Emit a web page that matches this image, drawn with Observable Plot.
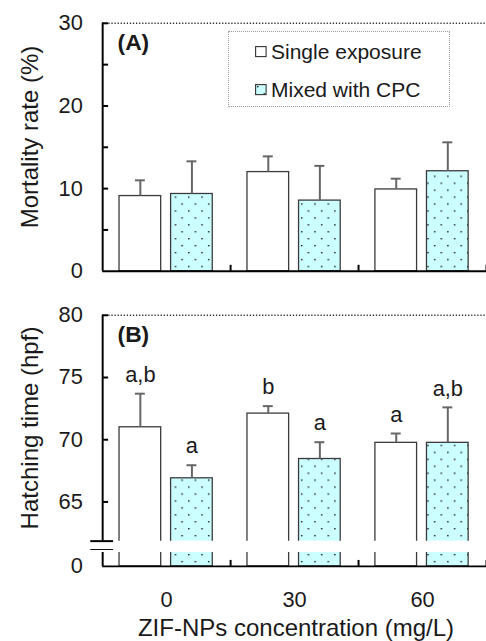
<!DOCTYPE html>
<html><head><meta charset="utf-8">
<script src="https://cdn.jsdelivr.net/npm/d3@7"></script>
<script src="https://cdn.jsdelivr.net/npm/@observablehq/plot@0.6"></script>
<style>
html,body{margin:0;padding:0;background:#fff;overflow:hidden;}
#wrap{position:relative;width:486px;height:641px;overflow:hidden;font-family:"Liberation Sans",Arial,sans-serif;color:#1a1a1a;}
.panel{position:absolute;left:0;}
.ytitle{position:absolute;font-size:24px;line-height:24px;white-space:nowrap;transform:translate(-50%,-50%) rotate(-90deg);}
.xtitle{position:absolute;font-size:24px;line-height:24px;white-space:nowrap;transform:translate(-50%,-50%);}
#legend{position:absolute;left:228px;top:31px;width:220px;height:74px;border:1.5px dotted #9a9a9a;}
.lg{position:absolute;left:26px;font-size:21px;line-height:21px;white-space:nowrap;}
.lg svg{position:absolute;left:0;}
.lg span{position:absolute;left:16px;top:0;}
</style></head><body>
<svg width="0" height="0" style="position:absolute">
 <defs>
  <pattern id="dots" patternUnits="userSpaceOnUse" width="13.4" height="14">
    <rect width="13.4" height="14" fill="#ccffff"/>
    <rect x="2" y="2" width="1.4" height="1.4" fill="#111"/>
    <rect x="8.7" y="9" width="1.4" height="1.4" fill="#111"/>
  </pattern>
 </defs>
</svg>
<div id="wrap"></div>
<script>
// ---- data ----
const concentrations = ["0", "30", "60"];
const seriesNames = ["Single exposure", "Mixed with CPC"];
const mortalitySingle = [9.1, 12.0, 9.9];
const mortalitySingleErr = [1.9, 1.9, 1.3];
const mortalityMixed = [9.35, 8.55, 12.1];
const mortalityMixedErr = [3.95, 4.2, 3.5];
const hatchingSingle = [71.0, 72.1, 69.75];
const hatchingSingleErr = [2.7, 0.6, 0.75];
const hatchingMixed = [66.9, 68.45, 69.75];
const hatchingMixedErr = [1.05, 1.35, 2.85];
const lettersSingle = ["a,b", "b", "a"];
const lettersMixed = ["a", "a", "a,b"];
const mortalityTicks = [0, 10, 20, 30];
const mortalityMinorTicks = [5, 10, 15, 20, 25, 30];
const hatchingTicks = [65, 70, 75, 80];
const hatchingLowTicks = [0];
const mortalityDomain = [0, 30];
const hatchingDomain = [61.85, 80];
const hatchingLowDomain = [0, 1];

// ---- layout / style ----
const FONT = '"Liberation Sans", Arial, sans-serif';
const W = 490, ML = 103;
const band = (W - ML) / concentrations.length;
const barW = 42, capW = 10, breakGap = 9;
const styles = {
  single: {left: 17, fill: "white"},
  mixed: {left: 69, fill: "url(#dots)"}
};
const rows = (vals, errs, letters) =>
  concentrations.map((c, i) => ({conc: c, value: vals[i], err: errs[i], letter: letters ? letters[i] : ""}));

function seriesMarks(data, st, {errors = true, letters = false, clip = false} = {}) {
  const c = st.left + barW / 2;
  const m = [
    Plot.barY(data, {x: "conc", y: "value", fill: st.fill, stroke: "#3a3a3a", strokeWidth: 1.3,
      insetLeft: st.left, insetRight: band - st.left - barW, clip})
  ];
  if (errors) {
    m.push(Plot.ruleX(data, {x: "conc", y1: "value", y2: d => d.value + d.err, dx: c - band / 2, stroke: "#666", strokeWidth: 2}));
    m.push(Plot.tickY(data, {x: "conc", y: d => d.value + d.err, insetLeft: c - capW / 2, insetRight: band - c - capW / 2, stroke: "#666", strokeWidth: 2}));
  }
  if (letters) {
    m.push(Plot.text(data, {x: "conc", y: d => d.value + d.err, text: "letter", dx: c - band / 2, dy: -19, fontSize: 22, fill: "#1a1a1a"}));
  }
  return m;
}
const common = {
  width: W, marginLeft: ML, marginRight: 0,
  style: {fontFamily: FONT, fontSize: "22px", color: "#1a1a1a", background: "transparent"},
  x: {type: "band", domain: concentrations, padding: 0, axis: null}
};
const innerTicks = (ticks) => Plot.tickY(ticks, {y: d => d, insetRight: W - ML - 6, stroke: "#000", strokeWidth: 2});
const breakMark = (v, dy = 0) => Plot.tickY([v], {y: d => d, dy, insetLeft: -12, insetRight: W - ML - 11, stroke: "#000", strokeWidth: 2});
const groupTicks = (frameH) => Plot.ruleX(concentrations, {x: d => d, dx: band / 2, insetTop: frameH - 6, stroke: "#000", strokeWidth: 2});
const yLine = () => Plot.ruleX([concentrations[0]], {x: d => d, dx: -band / 2, stroke: "#000", strokeWidth: 2});
const yAxis = (ticks) => Plot.axisY({ticks, tickSize: 0, tickPadding: 20, label: null, fontSize: 22, fill: "#1a1a1a", tickFormat: d => String(d)});
const panelLabel = (t) => Plot.text([t], {frameAnchor: "top-left", dx: 15, dy: 20, lineAnchor: "middle", fontWeight: "bold", fontSize: 23, textAnchor: "start", fill: "#1a1a1a"});

// ---- Panel A ----
const mS = rows(mortalitySingle, mortalitySingleErr), mM = rows(mortalityMixed, mortalityMixedErr);
const plotA = Plot.plot({
  ...common, height: 290, marginTop: 23, marginBottom: 17,
  y: {domain: mortalityDomain, axis: null},
  marks: [
    Plot.ruleY([mortalityDomain[1]], {stroke: "#333", strokeDasharray: "1.3,1.8", strokeWidth: 1.4}),
    ...seriesMarks(mS, styles.single),
    ...seriesMarks(mM, styles.mixed),
    yAxis(mortalityTicks),
    yLine(),
    innerTicks(mortalityMinorTicks),
    Plot.ruleY([0], {stroke: "#000", strokeWidth: 2}),
    groupTicks(290 - 23 - 17),
    panelLabel("(A)")
  ]
});

// ---- Panel B (upper part) ----
const hS = rows(hatchingSingle, hatchingSingleErr, lettersSingle), hM = rows(hatchingMixed, hatchingMixedErr, lettersMixed);
const plotB = Plot.plot({
  ...common, height: 262, marginTop: 25, marginBottom: 9.3,
  y: {domain: hatchingDomain, axis: null},
  marks: [
    Plot.ruleY([hatchingDomain[1]], {stroke: "#333", strokeDasharray: "1.3,1.8", strokeWidth: 1.4}),
    ...seriesMarks(hS, styles.single, {letters: true, clip: true}),
    ...seriesMarks(hM, styles.mixed, {letters: true, clip: true}),
    yAxis(hatchingTicks),
    yLine(),
    innerTicks(hatchingTicks),
    breakMark(hatchingDomain[0]),
    breakMark(hatchingDomain[0], breakGap),
    panelLabel("(B)")
  ]
});

// ---- Panel B (lower part, below axis break; bars cut by the SVG edge) ----
const plotB2 = Plot.plot({
  ...common, height: 89, marginTop: 0, marginBottom: 75,
  y: {domain: hatchingLowDomain, axis: null},
  marks: [
    ...seriesMarks(hS, styles.single, {errors: false}),
    ...seriesMarks(hM, styles.mixed, {errors: false}),
    yAxis(hatchingLowTicks),
    yLine(),
    Plot.ruleY([0], {stroke: "#000", strokeWidth: 2}),
    groupTicks(89 - 75),
    Plot.axisX({tickSize: 0, tickPadding: 25, fontSize: 22, label: null, fill: "#1a1a1a"})
  ]
});

const wrap = document.getElementById("wrap");
function place(el, top) { el.classList.add("panel"); el.style.top = top + "px"; el.style.overflow = "hidden"; wrap.appendChild(el); }
place(plotA, 0);
place(plotB, 290);
place(plotB2, 552);

function addDiv(cls, text, x, y) {
  const d = document.createElement("div"); d.className = cls; d.textContent = text;
  d.style.left = x + "px"; d.style.top = y + "px"; wrap.appendChild(d); return d;
}
addDiv("ytitle", "Mortality rate (%)", 30, 136.5);
addDiv("ytitle", "Hatching time (hpf)", 30, 427.5);
addDiv("xtitle", "ZIF-NPs concentration  (mg/L)", 296, 628);

// legend
const lg = document.createElement("div"); lg.id = "legend"; wrap.appendChild(lg);
const fills = [styles.single.fill, styles.mixed.fill];
seriesNames.forEach((name, i) => {
  const item = document.createElement("div"); item.className = "lg";
  item.style.top = (i === 0 ? 9 : 47) + "px";
  item.innerHTML = `<svg width="12" height="12" style="top:5px"><rect x="0.6" y="0.6" width="10.5" height="10" fill="${fills[i]}" stroke="#333" stroke-width="1.1"/></svg><span></span>`;
  item.querySelector("span").textContent = name;
  lg.appendChild(item);
});
</script>
</body></html>
